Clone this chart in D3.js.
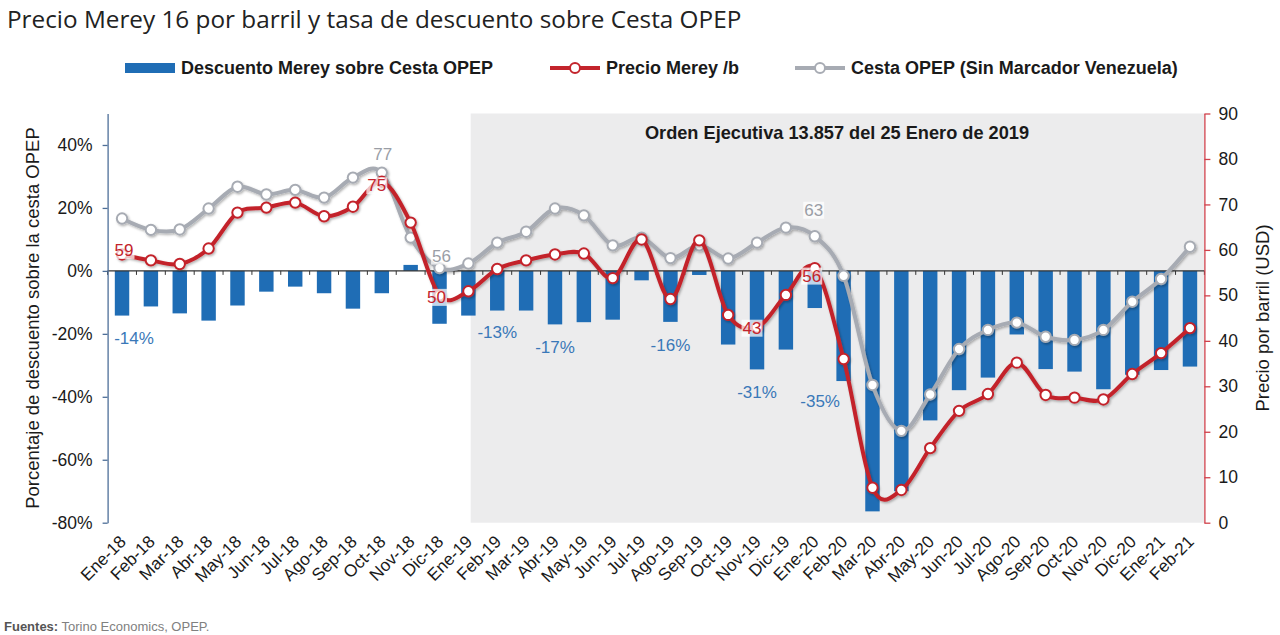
<!DOCTYPE html>
<html><head><meta charset="utf-8">
<script src="https://cdn.jsdelivr.net/npm/d3@7"></script>
<style>body{margin:0;background:#fff;} svg{display:block;}</style>
</head><body>
<svg id="chart" width="1280" height="635"></svg>
<script>
// ---------- DATA ----------
const months = ["Ene-18","Feb-18","Mar-18","Abr-18","May-18","Jun-18","Jul-18","Ago-18","Sep-18","Oct-18","Nov-18","Dic-18",
  "Ene-19","Feb-19","Mar-19","Abr-19","May-19","Jun-19","Jul-19","Ago-19","Sep-19","Oct-19","Nov-19","Dic-19",
  "Ene-20","Feb-20","Mar-20","Abr-20","May-20","Jun-20","Jul-20","Ago-20","Sep-20","Oct-20","Nov-20","Dic-20",
  "Ene-21","Feb-21"];
// Descuento Merey sobre Cesta OPEP (%)
const discount = [-14.2,-11.3,-13.5,-15.8,-11,-6.6,-5,-7.1,-12,-7.1,1.9,-16.8,
  -14.2,-12.6,-12.6,-17,-16.3,-15.5,-3,-16.2,-1.3,-23.4,-31.3,-25,
  -11.8,-35,-76.4,-70,-47.5,-37.9,-33.9,-20.2,-31.2,-32,-37.6,-33,
  -31.5,-30.4];
// Precio Merey (USD/b)
const merey = [59,57.7,56.9,60.3,68.2,69.3,70.4,67.4,69.5,75,66,50,
  50.9,55.8,57.7,59,59.2,53.8,62.3,49.2,62.1,45.7,43,50.1,
  56,36,7.7,7.2,16.4,24.6,28.3,35.2,28.1,27.5,27.1,32.7,
  37.3,42.8];
// Cesta OPEP sin marcador venezolano (USD/b)
const cesta = [66.9,64.4,64.5,69.1,73.9,72.2,73.2,71.5,75.9,77,62.7,56,
  57,61.6,64,69.1,67.6,61,62.7,58.2,61,58.1,61.6,64.9,
  63,54.3,30.3,20.2,28.2,38.2,42.4,44,40.9,40.2,42.4,48.6,
  53.6,60.7];
const leftTicks = [-80,-60,-40,-20,0,20,40];
const rightTicks = [0,10,20,30,40,50,60,70,80,90];
const barLabelIdx = [0,13,15,19,22,25];
const mereyLabelIdx = [0,9,11,22,24];
const cestaLabelIdx = [9,11,24];
const shadeStartIdx = 12; // Orden Ejecutiva, 25 Enero 2019

// ---------- LAYOUT / STYLE ----------
const plot = {l:107.6, r:1204.4, t:113.5, b:522.7};
const C = {bar:"#1f6db5", barLbl:"#3a78b8", red:"#c3242c", grey:"#a7abb3", greyLbl:"#9a9ea6",
  leftAxis:"#4d6e98", rightAxis:"#d0414b", shade:"#ececed", text:"#1a1a1a"};
const barLblOff = [[12,23],[0,22],[0,23.5],[0,24],[0,22.6],[-23.5,20.4]];
const mereyLblOff = [[2,-4],[-5,4],[-3,2],[-5,1],[-3,8]];
const cestaLblOff = [[1,-18],[2,-12],[-1,-26]];
const FONT = "'Liberation Sans', Arial, sans-serif";

const svg = d3.select("#chart");
const defs = svg.append("defs");
const f = defs.append("filter").attr("id","sh").attr("x","-10%").attr("y","-10%").attr("width","120%").attr("height","130%");
f.append("feDropShadow").attr("dx",1.2).attr("dy",1.5).attr("stdDeviation",1.3).attr("flood-color","#000").attr("flood-opacity",0.3);

const x = d3.scaleBand().domain(months).range([plot.l, plot.r]).paddingInner(0.5).paddingOuter(0.25);
const yL = d3.scaleLinear().domain([-80,50]).range([plot.b, plot.t]);
const yR = d3.scaleLinear().domain([0,90]).range([plot.b, plot.t]);
const cx = i => x(months[i]) + x.bandwidth()/2;

// Title
svg.append("text").attr("x",7).attr("y",28).attr("font-family","'Open Sans', sans-serif")
  .attr("font-size",24.3).attr("fill","#222").text("Precio Merey 16 por barril y tasa de descuento sobre Cesta OPEP");

// Legend
const lg = svg.append("g").attr("font-family",FONT).attr("font-weight","bold").attr("font-size",18).attr("fill",C.text);
lg.append("rect").attr("x",125).attr("y",63).attr("width",50).attr("height",10).attr("fill",C.bar);
lg.append("text").attr("x",181).attr("y",74).text("Descuento Merey sobre Cesta OPEP");
[[550,C.red,"Precio Merey /b"],[795,C.grey,"Cesta OPEP (Sin Marcador Venezuela)"]].forEach(([lx,col,t])=>{
  lg.append("line").attr("x1",lx).attr("x2",lx+50).attr("y1",68).attr("y2",68).attr("stroke",col).attr("stroke-width",4);
  lg.append("circle").attr("cx",lx+25).attr("cy",68).attr("r",5).attr("fill","#fff").attr("stroke",col).attr("stroke-width",2);
  lg.append("text").attr("x",lx+56).attr("y",74).text(t);
});

// Shaded region
const shadeX = cx(shadeStartIdx) + x.step()*0.08;
svg.append("rect").attr("x",shadeX).attr("y",plot.t).attr("width",plot.r-shadeX).attr("height",plot.b-plot.t).attr("fill",C.shade);
svg.append("text").attr("x",837).attr("y",139).attr("text-anchor","middle")
  .attr("font-family",FONT).attr("font-weight","bold").attr("font-size",18.2).attr("fill",C.text)
  .text("Orden Ejecutiva 13.857 del 25 Enero de 2019");

// Bars
svg.append("g").selectAll("rect").data(discount).join("rect")
  .attr("x",(d,i)=>x(months[i])).attr("width",x.bandwidth())
  .attr("y",d=>yL(Math.max(0,d))).attr("height",d=>Math.abs(yL(d)-yL(0)))
  .attr("fill",C.bar);

// Zero baseline with category ticks
const base = svg.append("g");
base.append("line").attr("x1",plot.l).attr("x2",plot.r).attr("y1",yL(0)).attr("y2",yL(0)).attr("stroke","#333").attr("stroke-width",1.3);
base.selectAll("line.t").data(d3.range(months.length+1)).join("line").attr("class","t")
  .attr("x1",k=>plot.l+k*x.step()).attr("x2",k=>plot.l+k*x.step())
  .attr("y1",yL(0)).attr("y2",yL(0)+4).attr("stroke","#333").attr("stroke-width",1);

// Left axis
const axL = svg.append("g").attr("transform",`translate(${plot.l},0)`)
  .call(d3.axisLeft(yL).tickValues(leftTicks).tickSize(5).tickSizeOuter(0).tickPadding(10).tickFormat(d=>d+"%"));
axL.select(".domain").attr("stroke",C.leftAxis).attr("stroke-width",1.3);
axL.selectAll(".tick line").attr("stroke",C.leftAxis).attr("stroke-width",1.3);
axL.selectAll("text").attr("font-family",FONT).attr("font-size",17.5).attr("fill",C.text);

// Right axis
const axR = svg.append("g").attr("transform",`translate(${plot.r},0)`)
  .call(d3.axisRight(yR).tickValues(rightTicks).tickSize(6).tickSizeOuter(0).tickPadding(8));
axR.select(".domain").attr("stroke",C.rightAxis).attr("stroke-width",1.3);
axR.selectAll(".tick line").attr("stroke",C.rightAxis).attr("stroke-width",1.3);
axR.selectAll("text").attr("font-family",FONT).attr("font-size",17.5).attr("fill",C.text);

// Axis titles
svg.append("text").attr("transform",`translate(39,318) rotate(-90)`).attr("text-anchor","middle")
  .attr("font-family",FONT).attr("font-size",18.5).attr("fill",C.text).text("Porcentaje de descuento sobre la cesta OPEP");
svg.append("text").attr("transform",`translate(1269,318) rotate(-90)`).attr("text-anchor","middle")
  .attr("font-family",FONT).attr("font-size",18.5).attr("fill",C.text).text("Precio por barril (USD)");

// X labels
svg.append("g").selectAll("text").data(months).join("text")
  .attr("transform",(d,i)=>`translate(${cx(i)+5},${plot.b+20}) rotate(-45)`)
  .attr("text-anchor","end").attr("font-family",FONT).attr("font-size",17.2).attr("fill",C.text).text(d=>d);

// Lines
const line = d3.line().x((d,i)=>cx(i)).y(d=>yR(d)).curve(d3.curveCatmullRom.alpha(0));
function drawSeries(vals,col){
  const g = svg.append("g").attr("filter","url(#sh)");
  g.append("path").attr("d",line(vals)).attr("fill","none").attr("stroke",col).attr("stroke-width",4).attr("stroke-linejoin","round");
  g.selectAll("circle").data(vals).join("circle").attr("cx",(d,i)=>cx(i)).attr("cy",d=>yR(d)).attr("r",5.2)
    .attr("fill","#fff").attr("stroke",col).attr("stroke-width",2);
}
drawSeries(cesta,C.grey);
drawSeries(merey,C.red);

// Data labels
function boxedLabel(px,py,txt,col){
  const g = svg.append("g");
  const t = g.append("text").attr("x",px).attr("y",py).attr("text-anchor","middle").attr("dominant-baseline","central")
    .attr("font-family",FONT).attr("font-size",17).attr("fill",col).text(txt);
  const bb = t.node().getBBox();
  g.insert("rect","text").attr("x",bb.x-1).attr("y",bb.y+1).attr("width",bb.width+2).attr("height",bb.height-2)
    .attr("fill","#fff").attr("opacity",0.72);
}
mereyLabelIdx.forEach((i,k)=>boxedLabel(cx(i)+mereyLblOff[k][0], yR(merey[i])+mereyLblOff[k][1], d3.format(".0f")(merey[i]), C.red));
cestaLabelIdx.forEach((i,k)=>boxedLabel(cx(i)+cestaLblOff[k][0], yR(cesta[i])+cestaLblOff[k][1], d3.format(".0f")(cesta[i]), C.greyLbl));
barLabelIdx.forEach((i,k)=>{
  svg.append("text").attr("x",cx(i)+barLblOff[k][0]).attr("y",yL(discount[i])+barLblOff[k][1])
    .attr("text-anchor","middle").attr("dominant-baseline","central")
    .attr("font-family",FONT).attr("font-size",17).attr("fill",C.barLbl).text(Math.round(discount[i])+"%");
});

// Footer
const ft = svg.append("text").attr("x",4).attr("y",631).attr("font-family",FONT).attr("font-size",13);
ft.append("tspan").attr("font-weight","bold").attr("fill","#555").text("Fuentes:");
ft.append("tspan").attr("fill","#808080").text(" Torino Economics, OPEP.");
</script>
</body></html>
